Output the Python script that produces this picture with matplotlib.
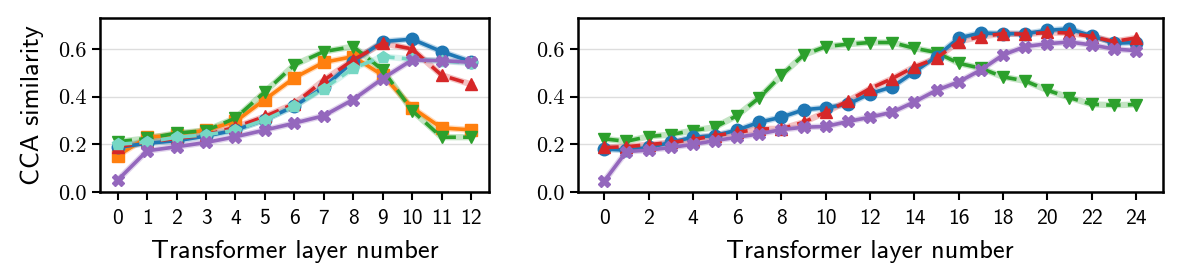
import matplotlib.pyplot as plt

# left panel: 12-layer model
layers_a = list(range(13))
blue_a = [0.187, 0.205, 0.215, 0.235, 0.26, 0.303, 0.36, 0.44, 0.547, 0.631, 0.641, 0.589, 0.547]
orange_a = [0.152, 0.23, 0.24, 0.26, 0.296, 0.388, 0.479, 0.544, 0.568, 0.49, 0.354, 0.269, 0.261]
green_a = [0.211, 0.225, 0.247, 0.258, 0.31, 0.42, 0.533, 0.589, 0.61, 0.512, 0.342, 0.23, 0.23]
red_a = [0.19, 0.21, 0.225, 0.24, 0.272, 0.317, 0.37, 0.469, 0.554, 0.624, 0.6, 0.49, 0.452]
teal_a = [0.20, 0.21, 0.23, 0.24, 0.26, 0.303, 0.36, 0.434, 0.519, 0.568, 0.557, 0.55, 0.54]
purple_a = [0.05, 0.173, 0.19, 0.208, 0.232, 0.26, 0.289, 0.32, 0.388, 0.476, 0.554, 0.551, 0.544]

# right panel: 24-layer model
layers_b = list(range(25))
blue_b = [0.18, 0.176, 0.187, 0.208, 0.23, 0.237, 0.26, 0.293, 0.314, 0.345, 0.354, 0.368, 0.413,
          0.441, 0.504, 0.568, 0.646, 0.667, 0.664, 0.664, 0.678, 0.684, 0.655, 0.624, 0.627]
red_b = [0.187, 0.19, 0.199, 0.208, 0.22, 0.237, 0.25, 0.265, 0.265, 0.293, 0.335, 0.382, 0.434,
         0.476, 0.525, 0.561, 0.631, 0.652, 0.664, 0.662, 0.669, 0.667, 0.652, 0.631, 0.646]
green_b = [0.223, 0.213, 0.233, 0.241, 0.258, 0.272, 0.321, 0.396, 0.49, 0.575, 0.61, 0.62, 0.627,
           0.627, 0.603, 0.585, 0.54, 0.519, 0.483, 0.466, 0.427, 0.396, 0.368, 0.364, 0.367]
purple_b = [0.046, 0.17, 0.176, 0.187, 0.2, 0.216, 0.23, 0.244, 0.262, 0.272, 0.275, 0.296, 0.314,
            0.335, 0.378, 0.427, 0.462, 0.512, 0.575, 0.61, 0.622, 0.629, 0.617, 0.6, 0.593]

BLUE, ORANGE, GREEN, RED = '#1f77b4', '#ff7f0e', '#2ca02c', '#d62728'
TEAL, PURPLE = '#76d7c4', '#9467bd'
SANS, SERIF = 'cmss10', 'cmr10'  # computer modern, shipped with matplotlib


def draw(ax, x, y, color, marker, ls):
    ax.plot(x, y, color=color, lw=4.5, alpha=0.28, zorder=2)
    ax.plot(x, y, color=color, lw=2.6, ls=ls, dashes=(4, 2) if ls == '--' else (None, None),
            marker=marker, ms=9, zorder=3)


fig = plt.figure(figsize=(11.96, 2.76), dpi=100)
ax1 = fig.add_axes([0.0836, 0.304, 0.325, 0.631])
ax2 = fig.add_axes([0.483, 0.304, 0.489, 0.631])

draw(ax1, layers_a, orange_a, ORANGE, 's', '-')
draw(ax1, layers_a, green_a, GREEN, 'v', '--')
draw(ax1, layers_a, blue_a, BLUE, 'o', '-')
draw(ax1, layers_a, red_a, RED, '^', '--')
draw(ax1, layers_a, teal_a, TEAL, 'p', '--')
draw(ax1, layers_a, purple_a, PURPLE, 'X', '-')

draw(ax2, layers_b, green_b, GREEN, 'v', '--')
draw(ax2, layers_b, blue_b, BLUE, 'o', '-')
draw(ax2, layers_b, red_b, RED, '^', '--')
draw(ax2, layers_b, purple_b, PURPLE, 'X', '-')

yt = [0, 0.2, 0.4, 0.6]
for ax, ticks in [(ax1, layers_a), (ax2, layers_b[::2])]:
    ax.set_ylim(0, 0.73)
    ax.set_xticks(ticks)
    ax.set_xticklabels([str(t) for t in ticks], fontsize=15.5, family=SANS)
    ax.set_yticks(yt)
    ax.set_yticklabels(['%.1f' % v for v in yt], fontsize=16, family=SERIF)
    ax.grid(axis='y', color='#dddddd', lw=1, zorder=0)
    ax.set_axisbelow(True)
    for s in ax.spines.values():
        s.set_linewidth(1.8)
    ax.tick_params(width=1.5, length=5.5)
    ax.tick_params(axis='x', pad=7)
    ax.tick_params(axis='y', pad=4)
    ax.set_xlabel('Transformer layer number', fontsize=19, family=SANS, labelpad=8)

ax1.set_ylabel('CCA similarity', fontsize=19, family=SANS, labelpad=10)

plt.savefig('out.png', dpi=100)
plt.close()
